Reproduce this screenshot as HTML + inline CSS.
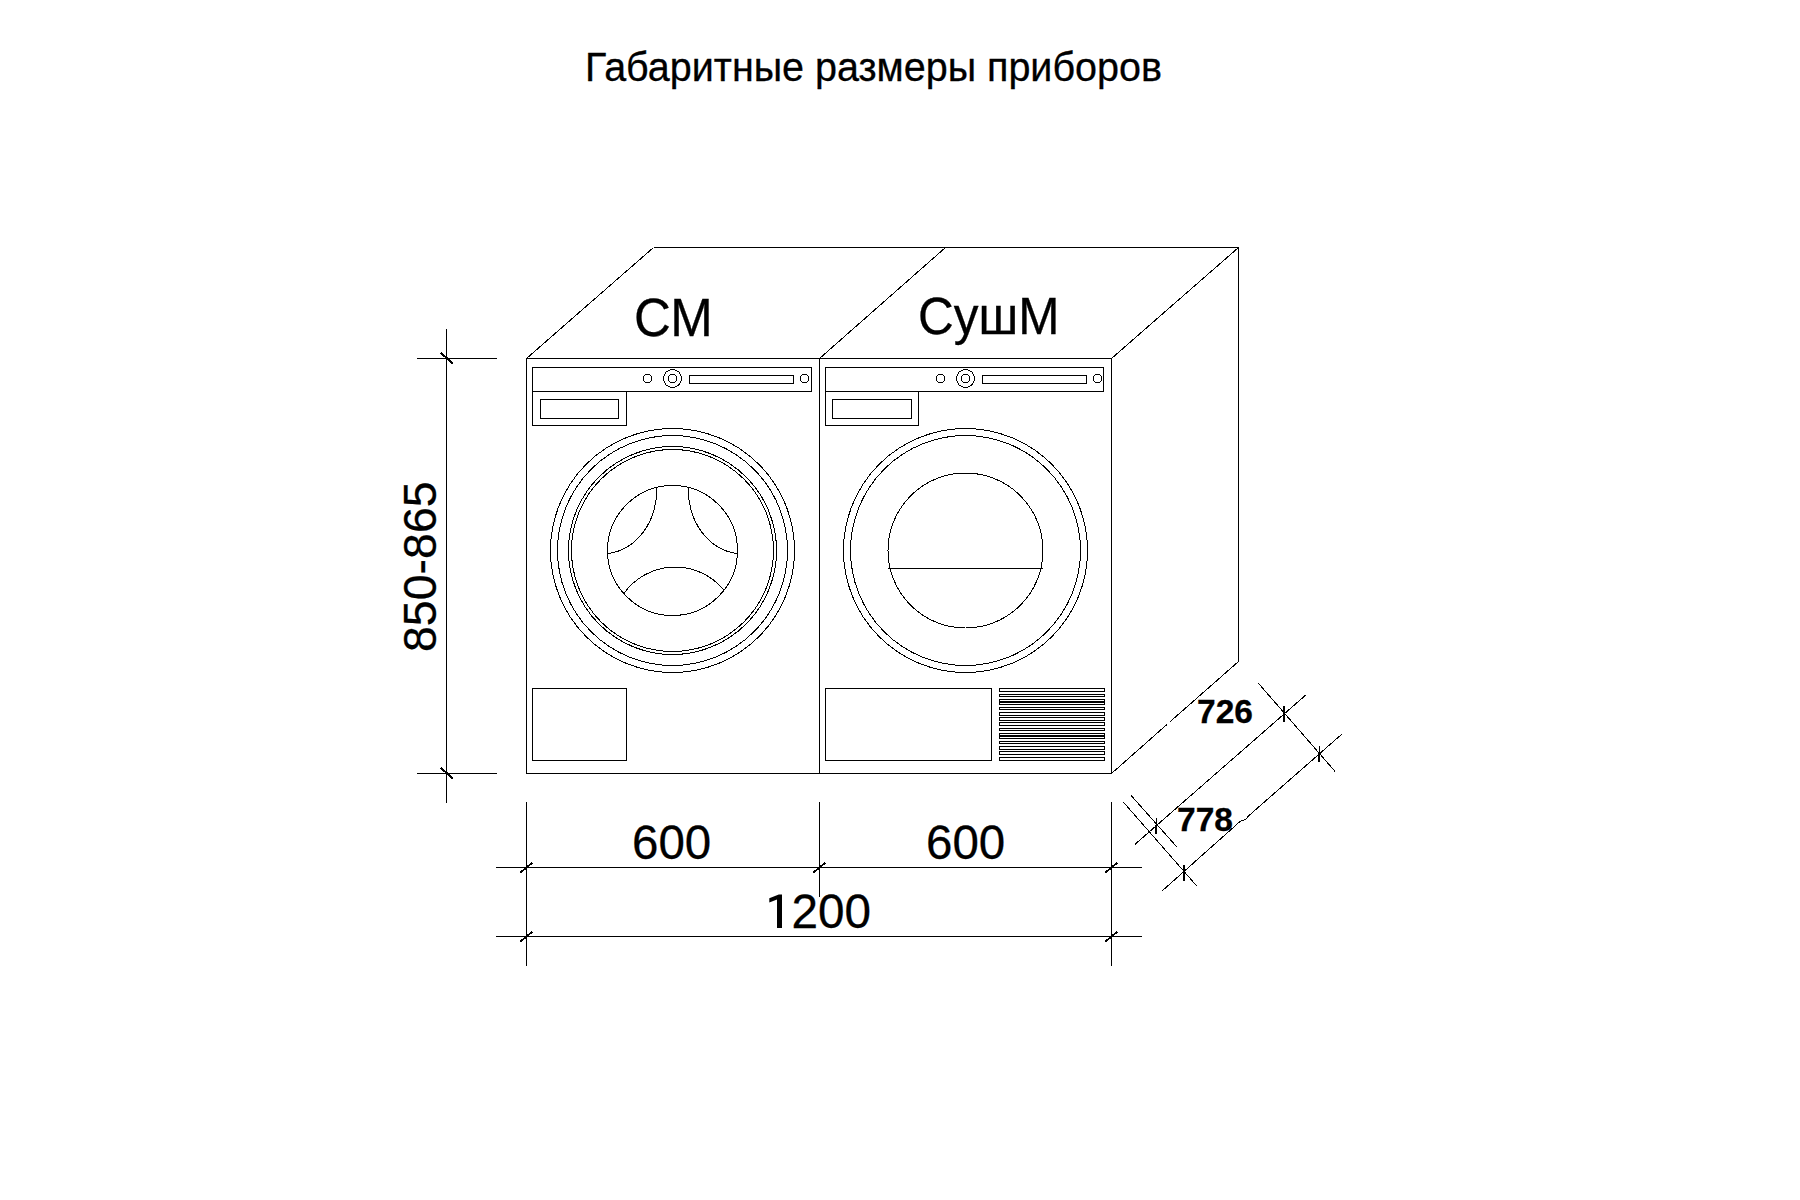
<!DOCTYPE html>
<html><head><meta charset="utf-8"><style>
html,body{margin:0;padding:0;background:#fff;width:1800px;height:1200px;overflow:hidden}
svg{display:block}
text{font-family:"Liberation Sans",sans-serif;fill:#000;stroke:#000;stroke-width:0.3px}
</style></head><body>
<svg width="1800" height="1200" viewBox="0 0 1800 1200">
<rect x="0" y="0" width="1800" height="1200" fill="#fff"/>
<g fill="none" stroke="#000" shape-rendering="crispEdges">
<rect x="526.5" y="358.5" width="585.0" height="415.0" stroke-width="1"/>
<line x1="819.5" y1="358.5" x2="819.5" y2="773.5" stroke-width="1"/>
<line x1="653.5" y1="247.5" x2="1238.5" y2="247.5" stroke-width="1"/>
<line x1="526.5" y1="358.5" x2="653.5" y2="247.5" stroke-width="1"/>
<line x1="819.5" y1="358.5" x2="945.5" y2="247.5" stroke-width="1"/>
<line x1="1111.5" y1="358.5" x2="1238.5" y2="247.5" stroke-width="1"/>
<line x1="1111.5" y1="773.5" x2="1166.8" y2="724.6" stroke-width="1"/>
<line x1="1170.2" y1="721.6" x2="1238.5" y2="661.5" stroke-width="1"/>
<line x1="1238.5" y1="247.5" x2="1238.5" y2="661.5" stroke-width="1"/>
<rect x="532.5" y="367.5" width="279.0" height="24.0" stroke-width="1"/>
<rect x="532.5" y="391.5" width="94.0" height="34.0" stroke-width="1"/>
<rect x="540.5" y="399.5" width="78.0" height="19.0" stroke-width="1"/>
<circle cx="647.5" cy="378.5" r="4.2" stroke-width="1"/>
<circle cx="672.5" cy="378.5" r="9" stroke-width="1"/>
<circle cx="672.5" cy="378.5" r="4.2" stroke-width="1"/>
<rect x="689.5" y="375.5" width="104.0" height="8.0" stroke-width="1"/>
<circle cx="804.5" cy="378.5" r="4.2" stroke-width="1"/>
<rect x="825.5" y="367.5" width="278.0" height="24.0" stroke-width="1"/>
<rect x="825.5" y="391.5" width="93.0" height="34.0" stroke-width="1"/>
<rect x="832.5" y="399.5" width="79.0" height="19.0" stroke-width="1"/>
<circle cx="940.5" cy="378.5" r="4.2" stroke-width="1"/>
<circle cx="965.5" cy="378.5" r="9" stroke-width="1"/>
<circle cx="965.5" cy="378.5" r="4.2" stroke-width="1"/>
<rect x="982.5" y="375.5" width="104.0" height="8.0" stroke-width="1"/>
<circle cx="1097.5" cy="378.5" r="4.2" stroke-width="1"/>
<circle cx="672.5" cy="550.5" r="122" stroke-width="1"/>
<circle cx="672.5" cy="550.5" r="115" stroke-width="1"/>
<circle cx="672.5" cy="550.5" r="104" stroke-width="1"/>
<circle cx="672.5" cy="550.5" r="101" stroke-width="1"/>
<circle cx="672.5" cy="550.5" r="65" stroke-width="1"/>
<path d="M656.8 487.2 C657.4 522.3 636.2 550.1 607.2 553.7" stroke-width="1"/>
<path d="M688.2 487.2 C687.6 522.3 708.8 550.1 737.8 553.7" stroke-width="1"/>
<path d="M624.2 593 A63 63 0 0 1 723.8 590" stroke-width="1"/>
<rect x="532.5" y="688.5" width="94.0" height="72.0" stroke-width="1"/>
<circle cx="965.5" cy="550.5" r="122" stroke-width="1"/>
<circle cx="965.5" cy="550.5" r="115" stroke-width="1"/>
<circle cx="965.5" cy="550.5" r="77.5" stroke-width="1"/>
<line x1="887.5" y1="568.5" x2="1042.5" y2="568.5" stroke-width="1"/>
<rect x="825.5" y="688.5" width="166.0" height="72.0" stroke-width="1"/>
<rect x="999.5" y="688.5" width="105.0" height="3.0" stroke-width="1"/>
<rect x="999.5" y="694.5" width="105.0" height="2.0" stroke-width="1"/>
<rect x="999.5" y="699.5" width="105.0" height="5.0" stroke-width="1"/>
<rect x="999.5" y="707.5" width="105.0" height="2.0" stroke-width="1"/>
<rect x="999.5" y="712.5" width="105.0" height="3.0" stroke-width="1"/>
<rect x="999.5" y="717.5" width="105.0" height="3.0" stroke-width="1"/>
<rect x="999.5" y="722.5" width="105.0" height="3.0" stroke-width="1"/>
<rect x="999.5" y="728.5" width="105.0" height="2.0" stroke-width="1"/>
<rect x="999.5" y="733.5" width="105.0" height="5.0" stroke-width="1"/>
<rect x="999.5" y="741.5" width="105.0" height="2.0" stroke-width="1"/>
<rect x="999.5" y="746.5" width="105.0" height="3.0" stroke-width="1"/>
<rect x="999.5" y="751.5" width="105.0" height="3.0" stroke-width="1"/>
<rect x="999.5" y="757.5" width="105.0" height="3.0" stroke-width="1"/>
<line x1="999.5" y1="702" x2="1104.5" y2="702" stroke-width="2"/>
<line x1="999.5" y1="736" x2="1104.5" y2="736" stroke-width="2"/>
<line x1="446.5" y1="329" x2="446.5" y2="803" stroke-width="1"/>
<line x1="417" y1="358.5" x2="497" y2="358.5" stroke-width="1"/>
<line x1="417" y1="773.5" x2="497" y2="773.5" stroke-width="1"/>
<line x1="440.7" y1="352.7" x2="452.7" y2="363.3" stroke-width="2"/>
<line x1="440.7" y1="767.7" x2="452.7" y2="778.3" stroke-width="2"/>
<line x1="496" y1="867.5" x2="1142" y2="867.5" stroke-width="1"/>
<line x1="496" y1="936.5" x2="1142" y2="936.5" stroke-width="1"/>
<line x1="526.5" y1="802" x2="526.5" y2="966" stroke-width="1"/>
<line x1="819.5" y1="802" x2="819.5" y2="897" stroke-width="1"/>
<line x1="1111.5" y1="802" x2="1111.5" y2="966" stroke-width="1"/>
<line x1="520.5" y1="872.5" x2="532.5" y2="862.5" stroke-width="2"/>
<line x1="813.5" y1="872.5" x2="825.5" y2="862.5" stroke-width="2"/>
<line x1="1105.5" y1="872.5" x2="1117.5" y2="862.5" stroke-width="2"/>
<line x1="520.5" y1="941.5" x2="532.5" y2="931.5" stroke-width="2"/>
<line x1="1105.5" y1="941.5" x2="1117.5" y2="931.5" stroke-width="2"/>
<line x1="1134.9" y1="844.4" x2="1306.4" y2="694.5" stroke-width="1"/>
<line x1="1258.5" y1="683.4" x2="1335.1" y2="771.5" stroke-width="1"/>
<line x1="1131.1" y1="795.5" x2="1177.1" y2="847.2" stroke-width="1"/>
<path d="M1161.7 891.3 L1240 821.5 L1245.5 819.5 L1249 815.5 L1341.8 734.2" stroke-width="1"/>
<line x1="1123.4" y1="802.2" x2="1197.2" y2="886.5" stroke-width="1"/>
<line x1="1156.5" y1="818" x2="1156.5" y2="826" stroke-width="1.4"/>
<line x1="1156.0" y1="825" x2="1156.0" y2="834" stroke-width="2"/>
<line x1="1284" y1="705.5" x2="1284" y2="713.5" stroke-width="1.4"/>
<line x1="1283.5" y1="712.5" x2="1283.5" y2="721.5" stroke-width="2"/>
<line x1="1184" y1="865" x2="1184" y2="873" stroke-width="1.4"/>
<line x1="1183.5" y1="872" x2="1183.5" y2="881" stroke-width="2"/>
<line x1="1319.5" y1="745.5" x2="1319.5" y2="753.5" stroke-width="1.4"/>
<line x1="1319.0" y1="752.5" x2="1319.0" y2="761.5" stroke-width="2"/>
</g>
<text transform="translate(585,81) scale(1,1.05)" font-size="39.5">Габаритные размеры приборов</text>
<text transform="translate(634,336) scale(1,1.05)" font-size="51">СМ</text>
<text transform="translate(918,334) scale(1,1.05)" font-size="49.5">СушМ</text>
<text x="632" y="859" font-size="47.5">600</text>
<text x="926" y="859" font-size="47.5">600</text>
<path d="M782 894.5 L782 928 L777 928 L777 899.5 L769.3 902.5 L769.3 898.3 L778.8 894.5 Z" fill="#000"/>
<text x="791.5" y="928" font-size="47.7">200</text>
<text transform="translate(436,652) rotate(-90)" font-size="46.5">850-865</text>
<text x="1197" y="723" font-size="33.5" font-weight="bold">726</text>
<text x="1177" y="831" font-size="33.5" font-weight="bold">778</text>
</svg>
</body></html>
